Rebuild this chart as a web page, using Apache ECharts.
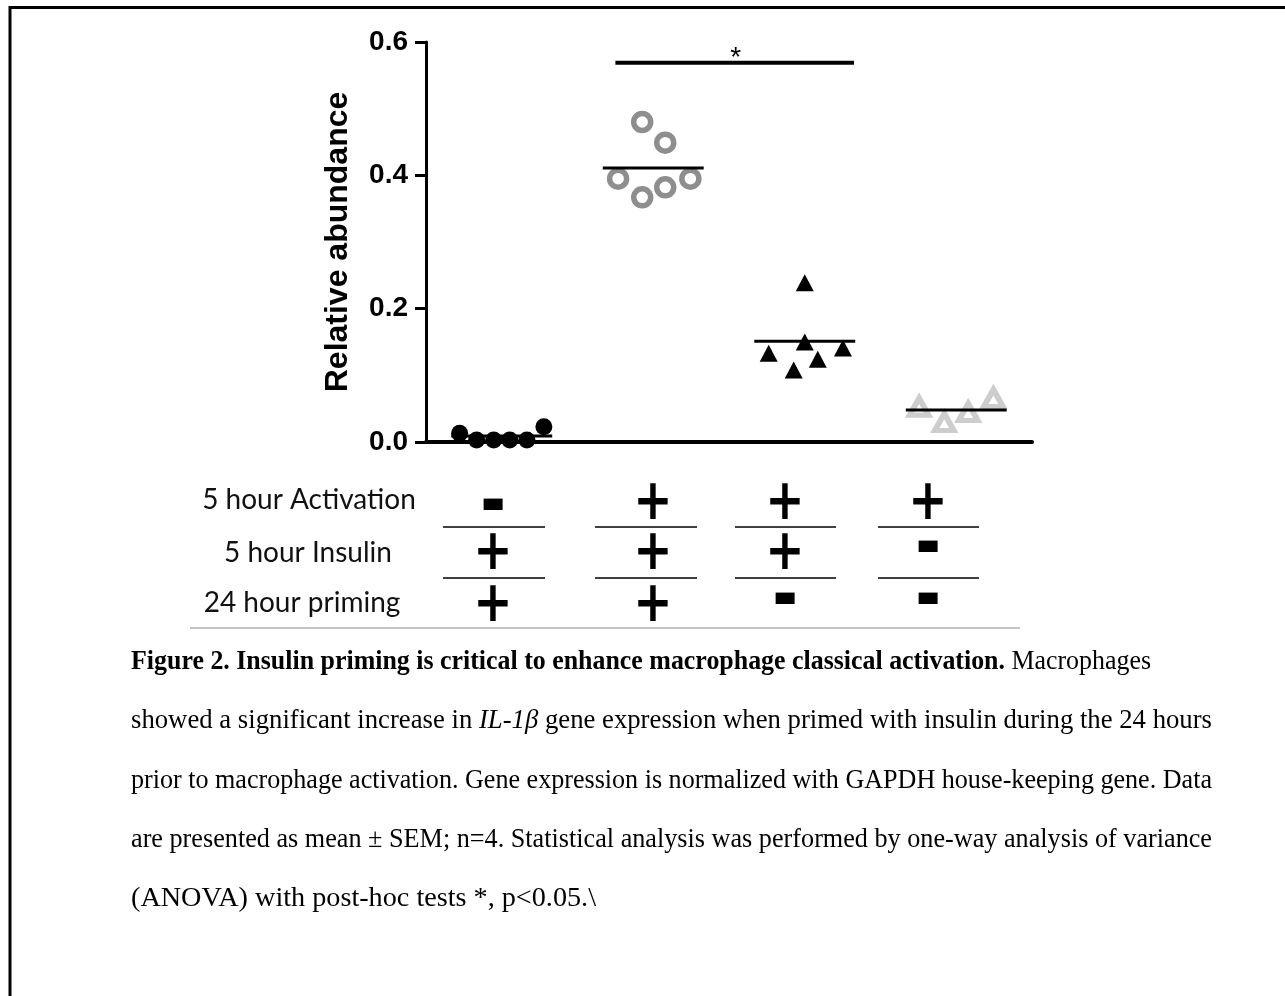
<!DOCTYPE html>
<html>
<head>
<meta charset="utf-8">
<script src="https://cdn.jsdelivr.net/npm/echarts@6/dist/echarts.min.js"></script>
<style>
html,body{margin:0;padding:0;background:#fff;}
#chart{width:1285px;height:996px;}
</style>
</head>
<body>
<div id="chart"></div>
<script>
// ---- data ----
var groups = ['G1', 'G2', 'G3', 'G4'];
var values1 = [0.013, 0.003, 0.003, 0.003, 0.003, 0.023];
var values2 = [0.395, 0.480, 0.367, 0.449, 0.382, 0.395];
var values3 = [0.133, 0.108, 0.239, 0.150, 0.124, 0.141];
var values4 = [0.053, 0.030, 0.045, 0.066];
var means = [0.009, 0.411, 0.151, 0.048];
var yTicks = [0, 0.2, 0.4, 0.6];
var sigBar = {from: 0.75, to: 2.325, y: 0.569, label: '*'};
var rowLabels = ['5 hour Activation', '5 hour Insulin', '24 hour priming'];
var rowActivation = ['-', '+', '+', '+'];
var rowInsulin = ['+', '+', '+', '-'];
var rowPriming = ['+', '+', '-', '-'];
var yTitle = 'Relative abundance';
var captionLines = [
  [['b', 'Figure 2. Insulin priming is critical to enhance macrophage classical activation.'], ['n', ' Macrophages']],
  [['n', 'showed a significant increase in '], ['i', 'IL-1β'], ['n', ' gene expression when primed with insulin during the 24 hours']],
  [['n', 'prior to macrophage activation. Gene expression is normalized with GAPDH house-keeping gene. Data']],
  [['n', 'are presented as mean ± SEM; n=4. Statistical analysis was performed by one-way analysis of variance']],
  [['n', '(ANOVA) with post-hoc tests *, p<0.05.\\']]
];

// ---- layout (not data) ----
var jitter1 = [-0.278, -0.166, -0.053, 0.053, 0.166, 0.278];
var jitter2 = [-0.232, -0.073, -0.073, 0.079, 0.079, 0.245];
var jitter3 = [-0.238, -0.073, 0, 0, 0.086, 0.252];
var jitter4 = [-0.245, -0.079, 0.079, 0.245];
var meanHalf = 0.333;

function pts(g, vals, jit) {
  return vals.map(function (v, i) { return [g + jit[i], v]; });
}

var chart = echarts.init(document.getElementById('chart'), null, {renderer: 'canvas'});

// table graphics
var colX = [493, 653, 785, 928];
var rowY = [504, 554, 606];
var labelX = [309, 308, 302];
var labelY = [500, 553, 603];
var lineY = [527, 578];
var colSpan = [[443, 545], [595, 697], [735, 836], [878, 979]];
var rows = [rowActivation, rowInsulin, rowPriming];
var graphics = [];
// border
graphics.push({type: 'line', shape: {x1: 9, y1: 7.5, x2: 1285, y2: 7.5}, style: {stroke: '#000', lineWidth: 3}});
graphics.push({type: 'line', shape: {x1: 10, y1: 6, x2: 10, y2: 996}, style: {stroke: '#000', lineWidth: 3}});
rowLabels.forEach(function (t, r) {
  graphics.push({type: 'text', x: labelX[r], y: labelY[r], style: {text: t, font: '28px Lato', fill: '#111', textAlign: 'center', textVerticalAlign: 'middle'}});
});
rows.forEach(function (row, r) {
  row.forEach(function (s, c) {
    var isPlus = s === '+';
    graphics.push({
      type: 'text', x: colX[c], y: isPlus ? rowY[r] : rowY[r] + (r === 0 ? 2 : -6),
      scaleY: isPlus ? 1.22 : 1.3,
      style: {text: s, font: isPlus ? 'bold 47px "DejaVu Sans"' : 'bold 62px "DejaVu Sans"', fill: '#000', textAlign: 'center', textVerticalAlign: 'middle'}
    });
  });
});
lineY.forEach(function (y) {
  colSpan.forEach(function (sp) {
    graphics.push({type: 'line', shape: {x1: sp[0], y1: y, x2: sp[1], y2: y}, style: {stroke: '#000', lineWidth: 1.3}});
  });
});
graphics.push({type: 'line', shape: {x1: 190, y1: 628, x2: 1020, y2: 628}, style: {stroke: '#b0b0b0', lineWidth: 1.5}});

// caption
var capSize = 27;
var capStyles = {
  b: {fontWeight: 'bold', fontStyle: 'normal'},
  n: {fontWeight: 'normal', fontStyle: 'normal'},
  i: {fontWeight: 'normal', fontStyle: 'italic'}
};
var capRich = {};
Object.keys(capStyles).forEach(function (k) {
  capRich[k] = {fontFamily: 'Liberation Serif', fontSize: capSize, fontWeight: capStyles[k].fontWeight, fontStyle: capStyles[k].fontStyle, fill: '#000'};
});
var capX = 131;
var capRight = [1151, 1212, 1212, 1212, 596];
var capY = [662, 721, 781, 840, 899];
var mctx = document.createElement('canvas').getContext('2d');
captionLines.forEach(function (segs, k) {
  var w = 0;
  var txt = segs.map(function (s) {
    var st = capStyles[s[0]];
    mctx.font = st.fontStyle + ' ' + st.fontWeight + ' ' + capSize + 'px "Liberation Serif"';
    w += mctx.measureText(s[1]).width;
    return '{' + s[0] + '|' + s[1] + '}';
  }).join('');
  var sx = w > 0 ? (capRight[k] - capX) / w : 1;
  graphics.push({type: 'text', x: capX, y: capY[k], scaleX: sx,
    style: {text: txt, rich: capRich, textAlign: 'left', textVerticalAlign: 'middle'}});
});

var option = {
  animation: false,
  backgroundColor: '#fff',
  grid: {left: 426, right: 253, top: 42, bottom: 554, containLabel: false},
  xAxis: {
    type: 'value', min: -0.5, max: 3.5,
    axisLine: {show: true, onZero: true, lineStyle: {color: '#000', width: 4}},
    axisTick: {show: false}, axisLabel: {show: false}, splitLine: {show: false}
  },
  yAxis: {
    type: 'value', min: 0, max: 0.6, interval: 0.2,
    name: yTitle, nameLocation: 'middle', nameRotate: 90, nameGap: 72,
    nameTextStyle: {fontFamily: 'Liberation Sans', fontWeight: 'bold', fontSize: 32, color: '#000'},
    axisLine: {show: true, onZero: false, lineStyle: {color: '#000', width: 3}},
    axisTick: {show: true, inside: false, length: 11, lineStyle: {color: '#000', width: 3}},
    axisLabel: {margin: 18, fontFamily: 'Liberation Sans', fontWeight: 'bold', fontSize: 28, color: '#000',
      formatter: function (v) { return v.toFixed(1); }},
    splitLine: {show: false}
  },
  graphic: graphics,
  series: [
    {type: 'scatter', data: pts(0, values1, jitter1), symbol: 'circle', symbolSize: 17,
      itemStyle: {color: '#000', opacity: 1}, z: 3},
    {type: 'scatter', data: pts(1, values2, jitter2), symbol: 'circle', symbolSize: 17,
      itemStyle: {color: '#fff', borderColor: '#8e8e8e', borderWidth: 5.5, opacity: 1}, z: 3},
    {type: 'scatter', data: pts(2, values3, jitter3), symbol: 'triangle', symbolSize: [18, 17],
      itemStyle: {color: '#000', opacity: 1}, z: 3},
    {type: 'scatter', data: pts(3, values4, jitter4), symbol: 'triangle', symbolSize: [19, 17],
      itemStyle: {color: '#fff', borderColor: '#cdcdcd', borderWidth: 5.5, opacity: 1}, z: 3},
    {
      type: 'custom', z: 5,
      data: means.map(function (m, g) { return [g, m]; }),
      renderItem: function (params, api) {
        var g = api.value(0), m = api.value(1);
        var p1 = api.coord([g - meanHalf, m]);
        var p2 = api.coord([g + meanHalf, m]);
        return {type: 'line', shape: {x1: p1[0], y1: p1[1], x2: p2[0], y2: p2[1]}, style: {stroke: '#000', lineWidth: 3}};
      }
    },
    {
      type: 'custom', z: 5,
      data: [[sigBar.from, sigBar.to, sigBar.y]],
      renderItem: function (params, api) {
        var p1 = api.coord([api.value(0), api.value(2)]);
        var p2 = api.coord([api.value(1), api.value(2)]);
        return {type: 'group', children: [
          {type: 'line', shape: {x1: p1[0], y1: p1[1], x2: p2[0], y2: p2[1]}, style: {stroke: '#000', lineWidth: 4}},
          {type: 'text', x: (p1[0] + p2[0]) / 2 + 1, y: p1[1] - 4.5, style: {text: sigBar.label, font: '28px "Liberation Sans"', fill: '#000', textAlign: 'center', textVerticalAlign: 'middle'}}
        ]};
      }
    }
  ]
};
chart.setOption(option);
</script>
</body>
</html>
